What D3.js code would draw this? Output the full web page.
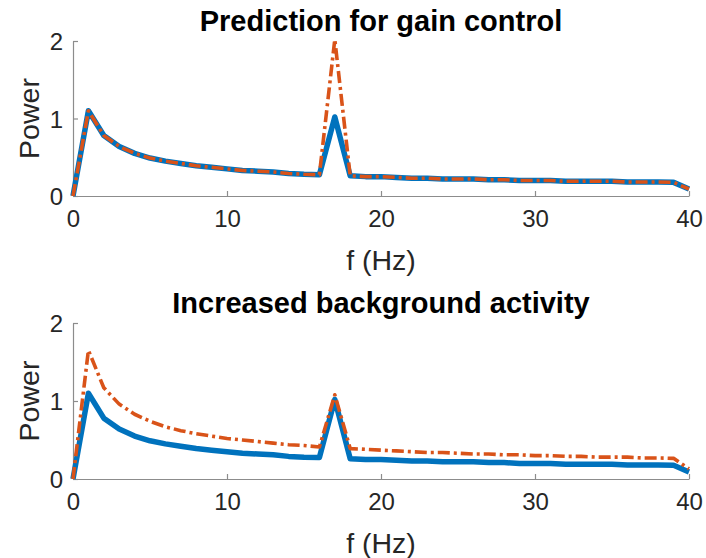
<!DOCTYPE html>
<html lang="en">
<head>
<meta charset="utf-8">
<title>Power spectra</title>
<script src="https://cdn.jsdelivr.net/npm/d3@7"></script>
<style>
body { margin: 0; background: #fff; }
svg text { font-family: "Liberation Sans", Arial, sans-serif; fill: #262626; }
</style>
</head>
<body>
<svg width="706" height="558"></svg>
<script>

// frequencies 0..40 Hz
var freqs = [0,1,2,3,4,5,6,7,8,9,10,11,12,13,14,15,16,17,18,19,20,
             21,22,23,24,25,26,27,28,29,30,31,32,33,34,35,36,37,38,39,40];

// baseline spectrum (blue, both panels)
var baseline = [0,1.10,0.78,0.64,0.55,0.49,0.45,0.42,0.39,0.37,0.35,
                0.33,0.32,0.31,0.29,0.28,0.275,1.02,0.26,0.25,0.25,
                0.24,0.23,0.23,0.22,0.22,0.22,0.21,0.21,0.20,0.20,
                0.20,0.19,0.19,0.19,0.19,0.18,0.18,0.18,0.176,0.09];

// gain control prediction (orange, top panel)
var gainCtrl = [0,1.10,0.78,0.64,0.55,0.49,0.45,0.42,0.39,0.37,0.35,
                0.33,0.32,0.31,0.29,0.28,0.275,2.02,0.26,0.25,0.25,
                0.24,0.23,0.23,0.22,0.22,0.22,0.21,0.21,0.20,0.20,
                0.20,0.19,0.19,0.19,0.19,0.18,0.18,0.18,0.176,0.09];

// increased background activity (orange, bottom panel)
var background = [0,1.65,1.17,0.96,0.83,0.74,0.67,0.62,0.58,0.55,0.52,
                  0.50,0.48,0.46,0.44,0.43,0.41,1.08,0.39,0.38,0.37,
                  0.36,0.35,0.34,0.34,0.33,0.32,0.32,0.31,0.31,0.30,
                  0.30,0.29,0.29,0.28,0.28,0.28,0.27,0.27,0.265,0.13];

var xTicks = [0, 10, 20, 30, 40];
var yTicks = [0, 1, 2];
var titles = ["Prediction for gain control", "Increased background activity"];

var svg = d3.select("svg");
var blue = "#0072BD", orange = "#D95319", axisCol = "#8c8c8c";

var x = d3.scaleLinear().domain([0, 40]).range([73, 689]);

function panel(top, bottom, title, orangeVals) {
  var y = d3.scaleLinear().domain([0, 2]).range([bottom, top]);
  var g = svg.append("g");

  // x axis (ticks point inward)
  var xa = g.append("g")
      .attr("transform", "translate(0," + bottom + ")")
      .call(d3.axisBottom(x).tickValues(xTicks).tickFormat(d3.format("d"))
        .tickSize(-5).tickPadding(14).tickSizeOuter(0));
  // y axis
  var ya = g.append("g")
      .attr("transform", "translate(" + x(0) + ",0)")
      .call(d3.axisLeft(y).tickValues(yTicks).tickFormat(d3.format("d"))
        .tickSize(-5).tickPadding(10).tickSizeOuter(0));

  [xa, ya].forEach(function(a) {
    a.select(".domain").attr("stroke", axisCol).attr("stroke-width", 1.2);
    a.selectAll(".tick line").attr("stroke", axisCol).attr("stroke-width", 1.2);
    a.selectAll(".tick text").style("font-size", "24px").attr("fill", "#262626");
  });
  xa.selectAll(".tick text").attr("dy", "0.71em");
  ya.selectAll(".tick text").attr("dy", "0.36em");

  var line = d3.line()
      .x(function(d, i) { return x(freqs[i]); })
      .y(function(d) { return y(d); });

  g.append("path").datum(baseline)
      .attr("d", line)
      .attr("fill", "none")
      .attr("stroke", blue)
      .attr("stroke-width", 5.5)
      .attr("stroke-linejoin", "round");

  g.append("path").datum(orangeVals)
      .attr("d", line)
      .attr("fill", "none")
      .attr("stroke", orange)
      .attr("stroke-width", 3.6)
      .attr("stroke-dasharray", "12,4,3,4")
      .attr("stroke-linejoin", "round");

  // labels
  g.append("text")
      .attr("x", 381).attr("y", top - 10)
      .attr("text-anchor", "middle")
      .style("font-size", "29px").style("font-weight", "bold")
      .style("fill", "#000")
      .text(title);

  g.append("text")
      .attr("x", 381).attr("y", bottom + 74)
      .attr("text-anchor", "middle")
      .style("font-size", "28.5px")
      .text("f (Hz)");

  g.append("text")
      .attr("transform", "translate(39," + ((top + bottom) / 2) + ") rotate(-90)")
      .attr("text-anchor", "middle")
      .style("font-size", "28.5px")
      .text("Power");
}

panel(41, 196, titles[0], gainCtrl);
panel(323, 479, titles[1], background);

</script>
</body>
</html>
